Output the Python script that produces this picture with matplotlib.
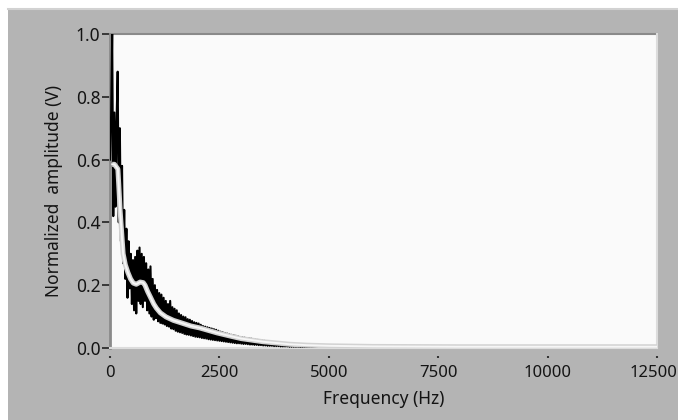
import numpy as np
import matplotlib
matplotlib.use("Agg")
import matplotlib.pyplot as plt
from matplotlib.patches import Rectangle
from matplotlib.lines import Line2D
from matplotlib.transforms import ScaledTranslation

# raw spectrum, one value per 25 Hz bin (0 ... 5000 Hz)
bin_hz = 25
raw_amp = [
    0.60, 0.74, 1.00, 0.42, 0.75, 0.45, 0.72, 0.88,
    0.40, 0.70, 0.34, 0.58, 0.27, 0.44, 0.22, 0.38,
    0.16, 0.34, 0.19, 0.30, 0.14, 0.28, 0.12, 0.29,
    0.11, 0.31, 0.15, 0.32, 0.14, 0.30, 0.13, 0.29,
    0.15, 0.27, 0.12, 0.25, 0.11, 0.26, 0.10, 0.22,
    0.09, 0.20, 0.095, 0.185, 0.085, 0.175, 0.08, 0.17,
    0.078, 0.16, 0.075, 0.15, 0.07, 0.14, 0.068, 0.15,
    0.062, 0.13, 0.06, 0.125, 0.055, 0.12, 0.052, 0.11,
    0.05, 0.105, 0.048, 0.10, 0.045, 0.098, 0.043, 0.092,
    0.042, 0.09, 0.04, 0.086, 0.038, 0.082, 0.036, 0.08,
    0.035, 0.078, 0.034, 0.074, 0.032, 0.07, 0.031, 0.068,
    0.03, 0.066, 0.028, 0.064, 0.027, 0.062, 0.026, 0.06,
    0.025, 0.058, 0.024, 0.055, 0.023, 0.052, 0.022, 0.05,
    0.021, 0.048, 0.02, 0.046, 0.019, 0.044, 0.018, 0.042,
    0.017, 0.041, 0.016, 0.039, 0.015, 0.037, 0.015, 0.035,
    0.014, 0.034, 0.013, 0.033, 0.013, 0.032, 0.012, 0.031,
    0.011, 0.03, 0.011, 0.028, 0.01, 0.027, 0.01, 0.026,
    0.009, 0.025, 0.009, 0.024, 0.008, 0.023, 0.008, 0.022,
    0.007, 0.021, 0.007, 0.02, 0.007, 0.019, 0.006, 0.018,
    0.006, 0.017, 0.006, 0.016, 0.005, 0.015, 0.005, 0.014,
    0.005, 0.013, 0.005, 0.012, 0.004, 0.012, 0.004, 0.011,
    0.004, 0.01, 0.004, 0.01, 0.004, 0.009, 0.003, 0.009,
    0.003, 0.008, 0.003, 0.008, 0.003, 0.007, 0.003, 0.007,
    0.003, 0.006, 0.002, 0.006, 0.002, 0.006, 0.002, 0.005,
    0.002, 0.005, 0.002, 0.005, 0.002, 0.004, 0.002, 0.004,
    0.002,
]
raw_hz = np.arange(len(raw_amp)) * bin_hz

# smoothed spectrum
smooth_hz = [50, 100, 180, 200, 230, 260, 300, 350, 410, 470, 530, 600, 690,
             760, 800, 860, 920, 1000, 1060, 1150, 1280, 1450, 1630, 1850,
             2050, 2250, 2450, 2750, 3000, 3200, 3500, 3800, 4100, 4500,
             5000, 6000, 8000, 10000, 12500]
smooth_amp = [0.585, 0.585, 0.57, 0.52, 0.44, 0.38, 0.30, 0.265, 0.24, 0.22,
              0.207, 0.203, 0.21, 0.208, 0.20, 0.18, 0.163, 0.14, 0.127,
              0.112, 0.099, 0.088, 0.08, 0.07, 0.064, 0.056, 0.048, 0.038,
              0.03, 0.026, 0.02, 0.016, 0.012, 0.009, 0.007, 0.005, 0.004,
              0.004, 0.004]

x_ticks = [0, 2500, 5000, 7500, 10000, 12500]
y_ticks = [0.0, 0.2, 0.4, 0.6, 0.8, 1.0]

W, H = 678, 420
fig = plt.figure(figsize=(W / 100, H / 100), dpi=100)
fig.patch.set_facecolor("white")
fig.patches.append(Rectangle((8 / W, 0), 670 / W, 411 / H, transform=fig.transFigure,
                             facecolor="#b4b4b4", edgecolor="none", zorder=-10))
fig.lines.append(Line2D([8 / W, 1], [411 / H, 411 / H], transform=fig.transFigure,
                        color="#d2d2d2", lw=1.5, zorder=-9))

ax = fig.add_axes([110 / W, 1 - 348 / H, 547 / W, 314 / H])
ax.set_zorder(1)
ax.set_facecolor("#fafafa")

ax.plot(raw_hz, raw_amp, color="black", lw=1.5, zorder=3)
ax.plot(smooth_hz, smooth_amp, color="#d2d2d2", lw=3.6, zorder=4,
        solid_capstyle="butt")
ax.plot(smooth_hz, smooth_amp, color="#f6f6f6", lw=1.4, zorder=5)

ax.set_xlim(0, 12500)
ax.set_ylim(0, 1.0)

for s in ax.spines.values():
    s.set_visible(False)
ax.spines["bottom"].set_position(("outward", 6))

# sunken frame
ax.add_line(Line2D([0, 0], [0, 1], transform=ax.transAxes, color="#8a8a8a", lw=2.0, clip_on=False))
ax.add_line(Line2D([0, 1], [1, 1], transform=ax.transAxes, color="#8a8a8a", lw=1.5, clip_on=False))
ax.add_line(Line2D([0, 1], [0, 0], transform=ax.transAxes, color="#dcdcdc", lw=1.5, clip_on=False))
ax.add_line(Line2D([1, 1], [0, 1], transform=ax.transAxes, color="#dcdcdc", lw=1.5, clip_on=False))

font = "Noto Sans"
ax.set_xticks(x_ticks)
ax.set_xticklabels([str(v) for v in x_ticks], fontfamily=font, fontsize=12)
ax.set_yticks(y_ticks)
ax.set_yticklabels([f"{v:.1f}" for v in y_ticks], fontfamily=font, fontsize=12.5)
ax.tick_params(axis="x", direction="out", length=1.5, width=1.5, color="#333333",
               pad=5, labelcolor="#141414")
ax.tick_params(axis="y", direction="out", length=6, width=1.2, color="#222222",
               pad=1, labelcolor="#141414")
# keep the last x label inside the figure
last = ax.get_xticklabels()[-1]
last.set_transform(last.get_transform() + ScaledTranslation(-4 / 100, 0, fig.dpi_scale_trans))

ax.set_xlabel("Frequency (Hz)", fontfamily=font, fontsize=12.5, color="#141414", labelpad=6)
ax.set_ylabel("Normalized  amplitude (V)", fontfamily=font, fontsize=12.5,
              color="#141414", labelpad=9)

fig.savefig("out.png", dpi=100, facecolor=fig.get_facecolor())
